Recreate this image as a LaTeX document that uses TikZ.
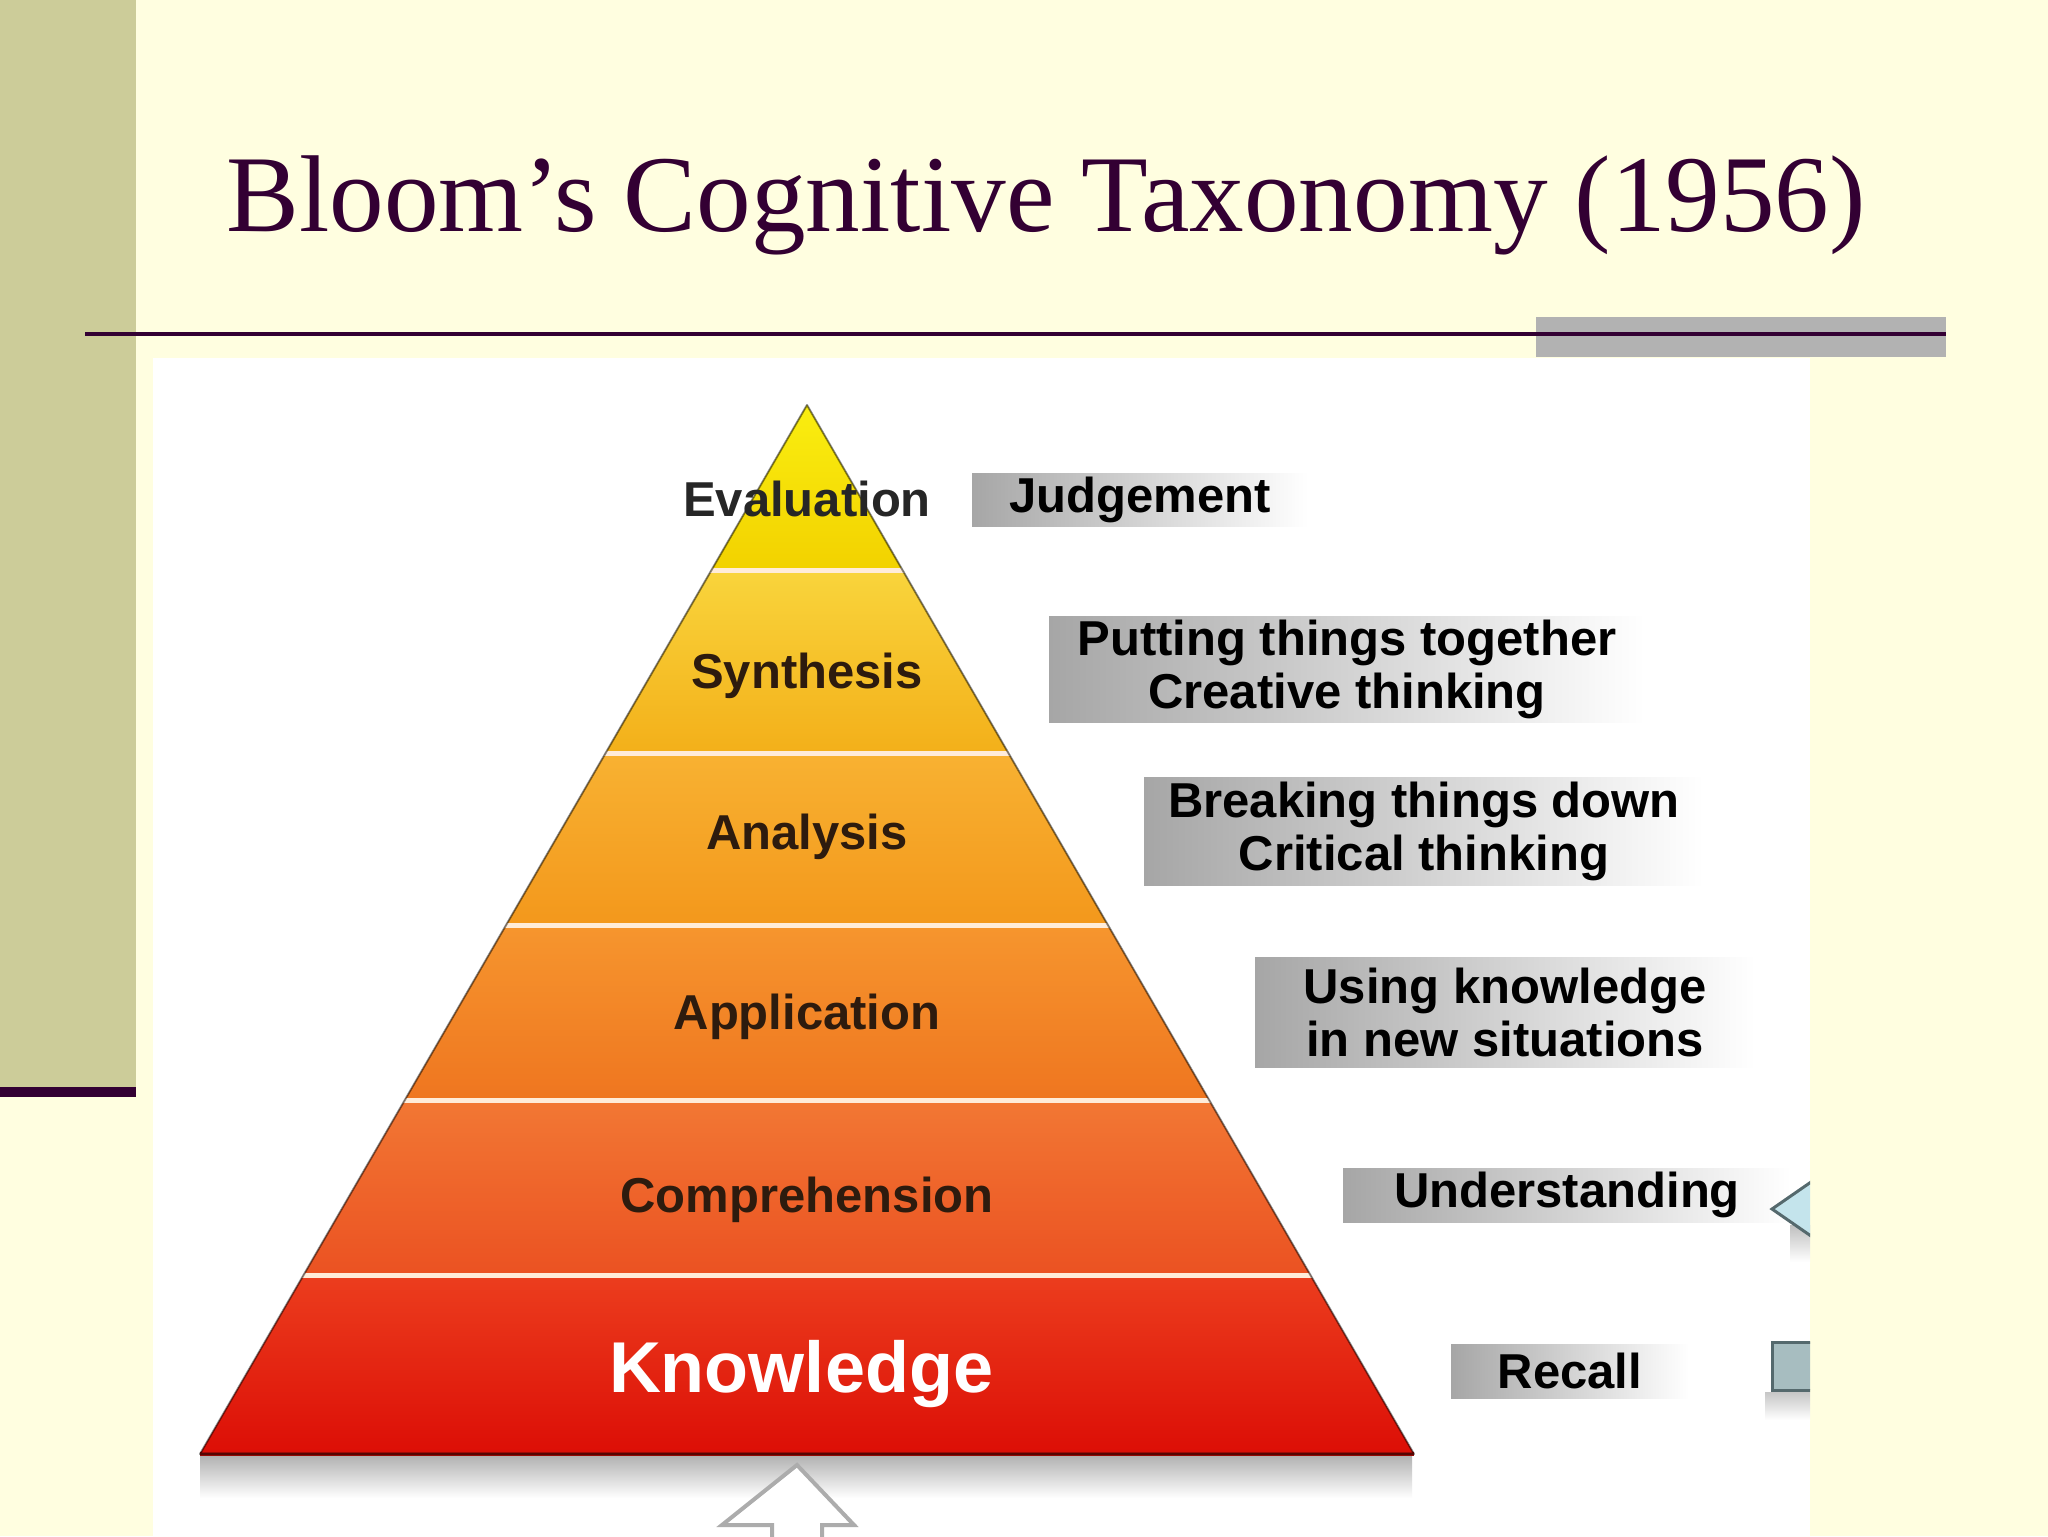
\documentclass[tikz,border=0pt]{standalone}
\usepackage{fontspec}
\setmainfont{Liberation Serif}
\setsansfont{Liberation Sans}
\usepackage{xcolor}
\usepackage{tikz}
\definecolor{slidecream}{HTML}{FFFEE0}
\definecolor{sidebarolive}{HTML}{CCCC99}
\definecolor{titleplum}{HTML}{330033}
\definecolor{rulegrey}{HTML}{B2B2B2}
\definecolor{tiertext}{HTML}{2D1B0E}
\definecolor{tagdark}{HTML}{A6A6A6}
\definecolor{tagmid}{HTML}{C9C9C9}
\definecolor{evaltop}{HTML}{FAEE10}
\definecolor{evalbot}{HTML}{F2D200}
\definecolor{syntop}{HTML}{F9D53C}
\definecolor{synbot}{HTML}{F3B01A}
\definecolor{anatop}{HTML}{F8B232}
\definecolor{anabot}{HTML}{F3981C}
\definecolor{apptop}{HTML}{F6962E}
\definecolor{appbot}{HTML}{EF7620}
\definecolor{comtop}{HTML}{F27834}
\definecolor{combot}{HTML}{EB5222}
\definecolor{knotop}{HTML}{EC3E1E}
\definecolor{knobot}{HTML}{DC0E06}
\definecolor{basered}{HTML}{9E0A05}
\definecolor{fragblue}{HTML}{C4E4EC}
\definecolor{fragteal}{HTML}{A7BDC0}
\definecolor{fragedge}{HTML}{55696D}
\newcommand{\tagbox}[6]{
    \node[tagfade, minimum width=#4*0.5pt, minimum height=#5*0.5pt] (#1) at (#2,#3) {#6};
}

\begin{document}
\begin{tikzpicture}[x=0.5pt,y=-0.5pt,
    every node/.style={inner sep=0pt},
    tierlabel/.style={font=\sffamily\bfseries\fontsize{24.5}{27}\selectfont, text=tiertext, anchor=base},
    tagfade/.style={font=\sffamily\bfseries\fontsize{24.5}{26.5}\selectfont, text=black, align=center,
        left color=tagdark, middle color=tagmid, right color=white},
    sepline/.style={draw=white!85!orange, line width=2.5pt}]
    \useasboundingbox (0,0) rectangle (2048,1536);
    \fill[slidecream] (0,0) rectangle (2048,1536);
    \fill[sidebarolive] (0,0) rectangle (136,1087);
    \fill[titleplum] (0,1087) rectangle (136,1097);
    \fill[rulegrey] (1536,317) rectangle (1946,357);
    \draw[titleplum, line width=2pt] (85,334) -- (1946,334);
    \node[font=\fontsize{54.6}{60}\selectfont, text=titleplum, anchor=base west] (title) at (226,231) {Bloom’s Cognitive Taxonomy (1956)};

    \fill[white] (153,358) rectangle (1810,1536);
    \begin{scope}
        \clip (153,358) rectangle (1810,1536);
        \fill[top color=gray!60, bottom color=white] (200,1456) rectangle (1412,1498);
        \filldraw[fill=white, draw=gray!65, line width=2pt] (797,1465) -- (854,1525) -- (822,1525) -- (822,1560) -- (772,1560) -- (772,1525) -- (722,1525) -- cycle;
    \end{scope}

    \coordinate (apex) at (807,405);
    \coordinate (baseL) at (200,1454);
    \coordinate (baseR) at (1414,1454);
    \begin{scope}
        \clip (apex) -- (baseR) -- (baseL) -- cycle;
        \fill[top color=evaltop, bottom color=evalbot] (200,405) rectangle (1414,568);
        \fill[top color=syntop, bottom color=synbot] (200,568) rectangle (1414,751);
        \fill[top color=anatop, bottom color=anabot] (200,751) rectangle (1414,923);
        \fill[top color=apptop, bottom color=appbot] (200,923) rectangle (1414,1098);
        \fill[top color=comtop, bottom color=combot] (200,1098) rectangle (1414,1273);
        \fill[top color=knotop, bottom color=knobot] (200,1273) rectangle (1414,1454);
        \draw[sepline] (200,570) -- (1414,570);
        \draw[sepline] (200,753) -- (1414,753);
        \draw[sepline] (200,925) -- (1414,925);
        \draw[sepline] (200,1100) -- (1414,1100);
        \draw[sepline] (200,1275) -- (1414,1275);
    \end{scope}
    \draw[basered, line width=2pt] (baseL) -- (baseR);
    \draw[black, opacity=0.45, line width=1pt, line join=round] (apex) -- (baseR) -- (baseL) -- cycle;

    \node[tierlabel, text=black!85] (evaluation) at (807,516) {Evaluation};
    \node[tierlabel] (synthesis) at (807,688) {Synthesis};
    \node[tierlabel] (analysis) at (807,849) {Analysis};
    \node[tierlabel] (application) at (807,1029) {Application};
    \node[tierlabel] (comprehension) at (807,1212) {Comprehension};
    \node[tierlabel, text=white, font=\sffamily\bfseries\fontsize{36}{40}\selectfont] (knowledge) at (801,1392) {Knowledge};

    \tagbox{judgement}{1140}{500}{336}{53}{Judgement}
    \tagbox{together}{1347}{669}{596}{106}{Putting things together\\Creative thinking}
    \tagbox{breakdown}{1424}{831}{560}{108}{Breaking things down\\Critical thinking}
    \tagbox{newuse}{1505}{1012}{500}{110}{Using knowledge\\in new situations}
    \tagbox{understanding}{1567}{1195}{448}{54}{Understanding}
    \tagbox{recall}{1570}{1371}{238}{54}{Recall}

    \begin{scope}
        \clip (153,358) rectangle (1810,1536);
        \fill[top color=gray!50, bottom color=white] (1790,1225) rectangle (1810,1262);
        \filldraw[fill=fragblue, draw=fragedge, line width=1.5pt] (1772,1209) -- (1850,1155) -- (1928,1209) -- (1850,1263) -- cycle;
        \fill[top color=gray!45, bottom color=white] (1765,1392) rectangle (1810,1420);
        \filldraw[fill=fragteal, draw=fragedge, line width=1.5pt] (1772,1342) rectangle (1850,1390);
    \end{scope}
\end{tikzpicture}
\end{document}
